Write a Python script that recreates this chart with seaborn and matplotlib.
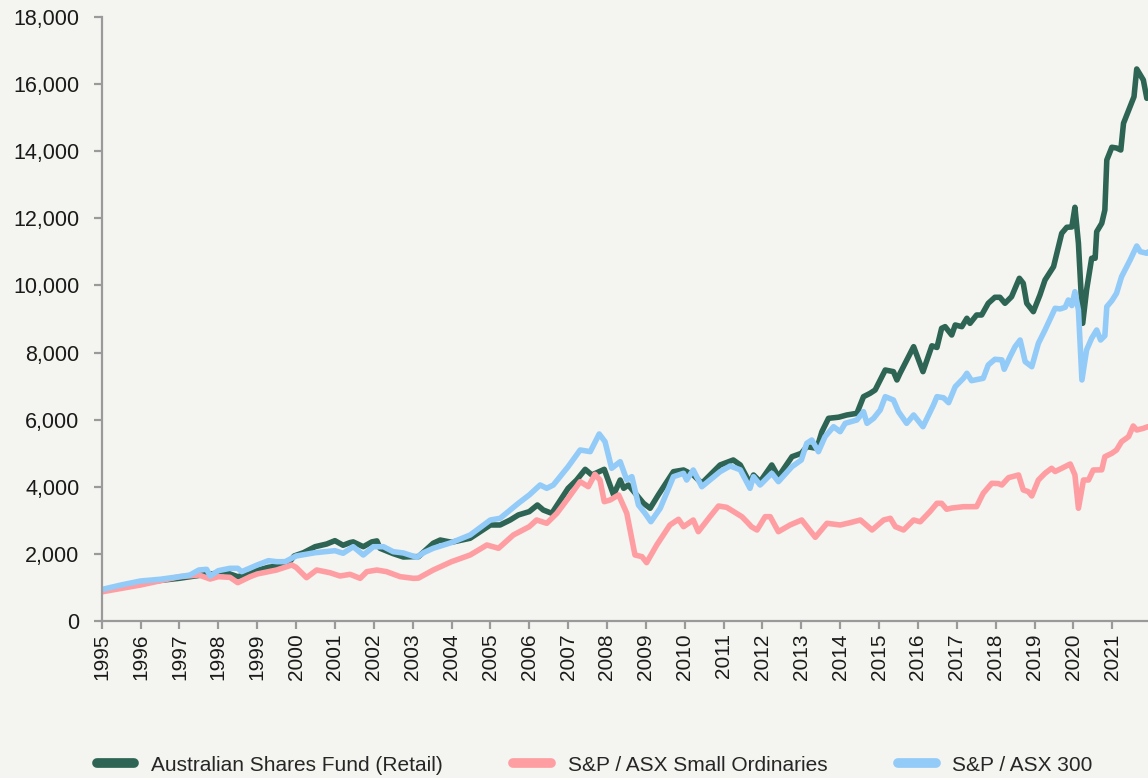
import matplotlib
matplotlib.use("Agg")
import matplotlib.pyplot as plt
import seaborn as sns
import numpy as np
import pandas as pd
from matplotlib.ticker import FuncFormatter

# Değerler (ondalık yıl, değer)
fund_years = [1995.00, 1995.50, 1996.00, 1996.50, 1997.00, 1997.50, 1997.79, 1998.00, 1998.13, 1998.50,
              1998.82, 1999.00, 1999.29, 1999.72, 1999.80, 1999.95, 2000.19, 2000.49, 2000.79, 2001.00,
              2001.21, 2001.39, 2001.47, 2001.73, 2001.95, 2002.08, 2002.16, 2002.50, 2002.76, 2003.02,
              2003.15, 2003.53, 2003.71, 2004.00, 2004.48, 2005.00, 2005.25, 2005.51, 2005.72, 2006.00,
              2006.21, 2006.36, 2006.58, 2007.00, 2007.22, 2007.44, 2007.61, 2007.93, 2008.17, 2008.34,
              2008.43, 2008.55, 2008.94, 2009.11, 2009.32, 2009.71, 2009.97, 2010.22, 2010.44, 2010.91,
              2011.25, 2011.43, 2011.68, 2011.77, 2011.94, 2012.24, 2012.41, 2012.76, 2013.00, 2013.14,
              2013.40, 2013.53, 2013.70, 2013.96, 2014.17, 2014.43, 2014.60, 2014.77, 2014.90, 2015.16,
              2015.37, 2015.46, 2015.54, 2015.89, 2016.13, 2016.36, 2016.49, 2016.61, 2016.70, 2016.87,
              2016.96, 2017.13, 2017.26, 2017.34, 2017.51, 2017.64, 2017.81, 2017.98, 2018.11, 2018.24,
              2018.41, 2018.61, 2018.71, 2018.80, 2018.97, 2019.14, 2019.27, 2019.49, 2019.70, 2019.83,
              2019.96, 2020.04, 2020.13, 2020.24, 2020.34, 2020.47, 2020.56, 2020.60, 2020.73, 2020.81,
              2020.86, 2020.99, 2021.11, 2021.22, 2021.29, 2021.46, 2021.56, 2021.63, 2021.80, 2021.89,
              2021.92]
fund_values = [900, 1020, 1130, 1200, 1265, 1350, 1390, 1420, 1462, 1313,
               1400, 1500, 1594, 1661, 1700, 1930, 2028, 2207, 2288, 2387,
               2250, 2330, 2350, 2207, 2350, 2380, 2160, 2000, 1900, 1910,
               1910, 2310, 2406, 2340, 2459, 2855, 2855, 3004, 3154, 3253,
               3451, 3302, 3203, 3949, 4197, 4515, 4347, 4515, 3750, 4197,
               3949, 4048, 3502, 3353, 3750, 4445, 4495, 4347, 4098, 4645,
               4794, 4645, 4099, 4346, 4147, 4645, 4296, 4892, 4993, 5191,
               5142, 5638, 6037, 6070, 6136, 6186, 6682, 6783, 6882, 7478,
               7429, 7180, 7380, 8174, 7429, 8200, 8150, 8722, 8771, 8522,
               8821, 8771, 9021, 8870, 9119, 9119, 9468, 9647, 9647, 9468,
               9665, 10214, 10065, 9468, 9218, 9716, 10163, 10560, 11556, 11735,
               11745, 12332, 11258, 8871, 9866, 10811, 10811, 11604, 11854, 12251,
               13743, 14122, 14100, 14041, 14838, 15333, 15631, 16457, 16129, 15583,
               15600]

small_years = [1995.00, 1996.00, 1997.00, 1997.50, 1997.79, 1998.00, 1998.30, 1998.50, 1998.82, 1999.00,
               1999.50, 1999.89, 2000.00, 2000.27, 2000.53, 2000.87, 2001.13, 2001.39, 2001.65, 2001.82,
               2002.08, 2002.33, 2002.68, 2003.02, 2003.15, 2003.53, 2004.00, 2004.48, 2004.91, 2005.21,
               2005.59, 2006.00, 2006.19, 2006.45, 2006.71, 2007.00, 2007.31, 2007.52, 2007.69, 2007.82,
               2007.93, 2008.08, 2008.30, 2008.51, 2008.72, 2008.90, 2009.02, 2009.28, 2009.62, 2009.84,
               2009.97, 2010.22, 2010.35, 2010.65, 2010.87, 2011.08, 2011.47, 2011.60, 2011.72, 2011.86,
               2012.07, 2012.20, 2012.41, 2012.71, 2013.01, 2013.36, 2013.66, 2014.00, 2014.26, 2014.52,
               2014.82, 2015.12, 2015.29, 2015.42, 2015.63, 2015.89, 2016.06, 2016.31, 2016.49, 2016.61,
               2016.74, 2016.87, 2017.17, 2017.51, 2017.68, 2017.90, 2018.07, 2018.16, 2018.33, 2018.59,
               2018.71, 2018.84, 2018.93, 2019.10, 2019.27, 2019.44, 2019.53, 2019.70, 2019.92, 2020.04,
               2020.13, 2020.26, 2020.39, 2020.51, 2020.73, 2020.81, 2020.99, 2021.11, 2021.24, 2021.42,
               2021.54, 2021.63, 2021.80, 2021.92]
small_values = [860, 1065, 1313, 1363, 1243, 1313, 1293, 1134, 1313, 1393,
                1512, 1661, 1592, 1283, 1512, 1432, 1333, 1383, 1263, 1462,
                1512, 1462, 1313, 1263, 1270, 1512, 1760, 1960, 2258, 2160,
                2556, 2804, 3004, 2905, 3203, 3651, 4147, 3998, 4367, 4197,
                3550, 3600, 3750, 3203, 1960, 1910, 1731, 2258, 2855, 3025,
                2804, 3004, 2655, 3103, 3421, 3382, 3103, 2950, 2800, 2705,
                3103, 3103, 2655, 2855, 3004, 2488, 2905, 2855, 2925, 3004,
                2705, 3004, 3054, 2805, 2705, 3004, 2950, 3253, 3502, 3500,
                3323, 3360, 3400, 3402, 3800, 4099, 4090, 4048, 4266, 4347,
                3900, 3850, 3720, 4197, 4397, 4546, 4450, 4546, 4674, 4347,
                3353, 4197, 4197, 4495, 4500, 4892, 4993, 5092, 5340, 5489,
                5808, 5688, 5738, 5788]

asx_years = [1995.00, 1995.50, 1996.00, 1996.50, 1997.00, 1997.27, 1997.50, 1997.70, 1997.79, 1998.00,
             1998.30, 1998.50, 1998.60, 1999.00, 1999.29, 1999.50, 1999.72, 2000.00, 2000.49, 2001.00,
             2001.21, 2001.47, 2001.73, 2001.99, 2002.25, 2002.50, 2002.76, 2003.11, 2003.28, 2003.53,
             2004.00, 2004.48, 2005.00, 2005.25, 2005.51, 2005.72, 2006.00, 2006.28, 2006.45, 2006.62,
             2007.00, 2007.31, 2007.57, 2007.80, 2007.95, 2008.12, 2008.34, 2008.51, 2008.64, 2008.81,
             2008.98, 2009.13, 2009.37, 2009.71, 2009.97, 2010.05, 2010.22, 2010.44, 2010.65, 2010.91,
             2011.17, 2011.43, 2011.68, 2011.77, 2011.94, 2012.24, 2012.41, 2012.76, 2013.00, 2013.14,
             2013.27, 2013.44, 2013.61, 2013.83, 2014.00, 2014.13, 2014.43, 2014.60, 2014.69, 2014.86,
             2015.03, 2015.16, 2015.37, 2015.50, 2015.71, 2015.89, 2016.13, 2016.40, 2016.49, 2016.66,
             2016.79, 2016.96, 2017.17, 2017.26, 2017.38, 2017.68, 2017.81, 2017.98, 2018.16, 2018.22,
             2018.37, 2018.50, 2018.63, 2018.76, 2018.93, 2019.10, 2019.27, 2019.53, 2019.66, 2019.79,
             2019.87, 2019.96, 2020.04, 2020.13, 2020.22, 2020.34, 2020.47, 2020.60, 2020.70, 2020.81,
             2020.86, 2020.99, 2021.11, 2021.24, 2021.46, 2021.63, 2021.72, 2021.89, 2021.92]
asx_values = [930, 1065, 1184, 1235, 1313, 1363, 1512, 1532, 1333, 1492,
              1562, 1562, 1462, 1661, 1790, 1760, 1760, 1930, 2028, 2088,
              2011, 2207, 1960, 2207, 2207, 2058, 2020, 1890, 2028, 2160,
              2330, 2556, 3004, 3054, 3302, 3502, 3750, 4048, 3949, 4048,
              4594, 5092, 5043, 5569, 5340, 4546, 4743, 4197, 4297, 3451,
              3203, 2953, 3353, 4296, 4397, 4197, 4495, 3997, 4197, 4445,
              4615, 4500, 3949, 4296, 4048, 4397, 4147, 4595, 4794, 5291,
              5390, 5041, 5489, 5787, 5638, 5888, 5987, 6235, 5888, 6037,
              6285, 6682, 6583, 6235, 5888, 6136, 5787, 6434, 6682, 6650,
              6503, 6980, 7230, 7380, 7160, 7230, 7628, 7797, 7780, 7500,
              7876, 8174, 8373, 7727, 7577, 8275, 8671, 9319, 9300, 9350,
              9566, 9400, 9814, 9268, 7180, 8075, 8424, 8671, 8373, 8500,
              9367, 9546, 9766, 10262, 10760, 11177, 11009, 10960, 11000]

series_names = ["Australian Shares Fund (Retail)", "S&P / ASX Small Ordinaries", "S&P / ASX 300"]
renkler = ["#2d6454", "#ff9ea2", "#92cbf8"]
year_ticks = list(range(1995, 2022))

df = pd.concat([
    pd.DataFrame({"year": fund_years, "value": fund_values, "series": series_names[0]}),
    pd.DataFrame({"year": small_years, "value": small_values, "series": series_names[1]}),
    pd.DataFrame({"year": asx_years, "value": asx_values, "series": series_names[2]}),
])

sns.set_style("ticks")
plt.rcParams["font.family"] = ["Liberation Sans", "DejaVu Sans"]
bg = "#f4f4f0"

fig = plt.figure(figsize=(11.48, 7.78), dpi=100, facecolor=bg)
ax = fig.add_axes([0.0886, 0.2022, 0.9114, 0.7756])
ax.set_facecolor(bg)

sns.lineplot(data=df, x="year", y="value", hue="series", hue_order=series_names,
             palette=renkler, linewidth=4, estimator=None, sort=True, legend=False, ax=ax)

ax.set_xlim(1995.0, 2021.92)
ax.set_ylim(0, 18000)
ax.set_yticks(range(0, 18001, 2000))
ax.yaxis.set_major_formatter(FuncFormatter(lambda v, p: f"{v:,.0f}"))
ax.set_xticks(year_ticks)
ax.set_xticklabels([str(y) for y in year_ticks], rotation=90)
ax.set_xlabel("")
ax.set_ylabel("")

for s in ["top", "right"]:
    ax.spines[s].set_visible(False)
for s in ["left", "bottom"]:
    ax.spines[s].set_color("#9a9a9a")
    ax.spines[s].set_linewidth(1.6)
ax.tick_params(axis="both", colors="#9a9a9a", width=1.6, length=6, labelcolor="#1a1a1a")
ax.tick_params(axis="y", labelsize=15.5, pad=10)
ax.tick_params(axis="x", labelsize=15, pad=3)

# Alt lejant
handles = [plt.Line2D([0], [0], color=c, lw=7, solid_capstyle="round") for c in renkler]
fig.legend(handles, series_names, loc="center", bbox_to_anchor=(0.518, 0.0167), ncol=3,
           frameon=False, fontsize=15, handlelength=1.8, handletextpad=0.8, columnspacing=3.4)

fig.savefig("out.png", dpi=100, facecolor=bg)
